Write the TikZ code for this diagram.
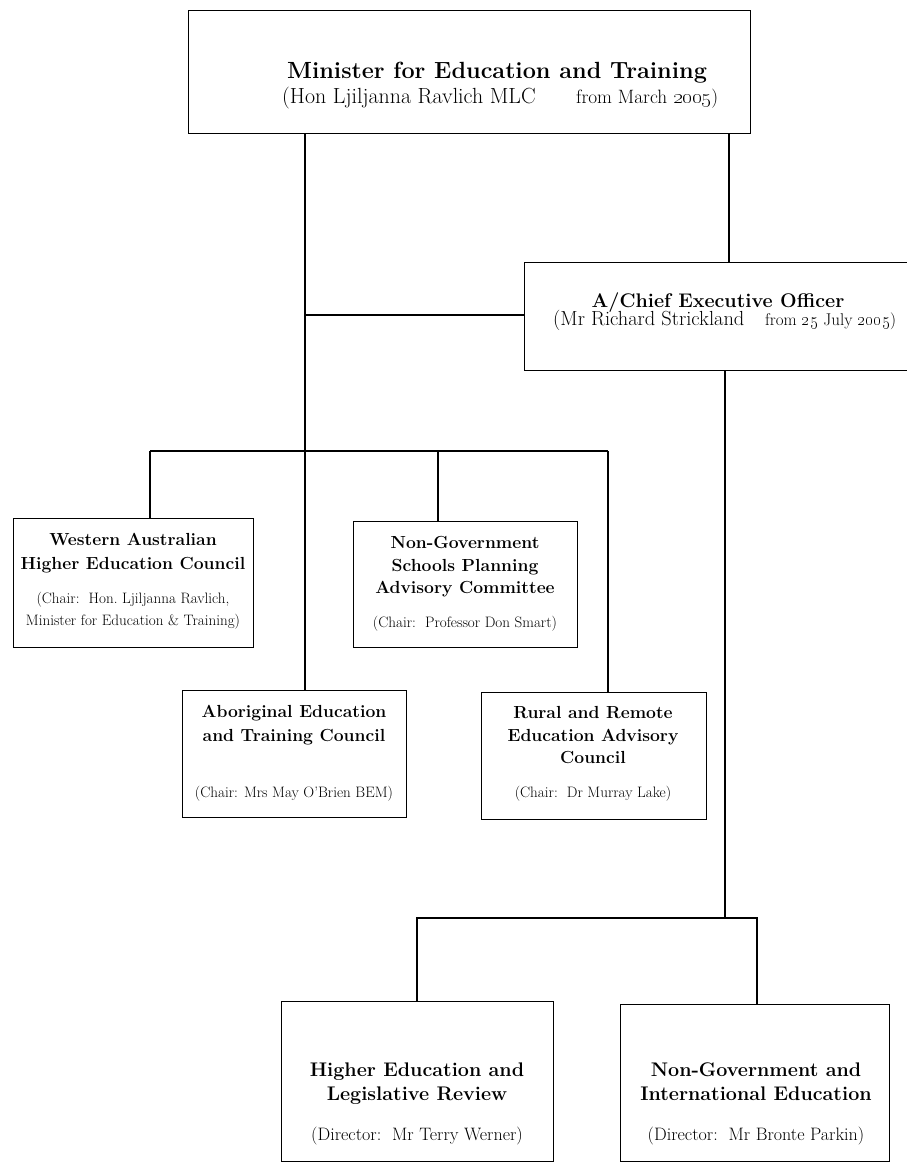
\documentclass[tikz,border=0pt]{standalone}
\begin{document}
\begin{tikzpicture}[x=1pt,y=-1pt,
  box/.style={draw, line width=1.3pt, inner sep=0pt, anchor=north west},
  conn/.style={line width=1.2pt},
  txt/.style={inner sep=0pt, anchor=base},
  tbig/.style={txt, font=\fontsize{23.4}{28}\selectfont\bfseries},
  tmed/.style={txt, font=\fontsize{19.7}{24}\selectfont\bfseries},
  tsmall/.style={txt, font=\fontsize{17.5}{21}\selectfont\bfseries},
  chair/.style={txt, font=\fontsize{15.1}{18}\selectfont},
  dir/.style={txt, font=\fontsize{18}{21}\selectfont},
]
\useasboundingbox (0,0) rectangle (906,1163);

% boxes
\node[box, minimum width=562pt, minimum height=123pt] (min) at (188,10) {};
\node[box, minimum width=392pt, minimum height=108pt] (ceo) at (524,262) {};
\node[box, minimum width=240pt, minimum height=129pt] (wa) at (13,518) {};
\node[box, minimum width=224pt, minimum height=126pt] (ng) at (353,521) {};
\node[box, minimum width=224pt, minimum height=127pt] (abo) at (182,690) {};
\node[box, minimum width=225pt, minimum height=127pt] (rr) at (481,692) {};
\node[box, minimum width=272pt, minimum height=160pt] (hel) at (281,1001) {};
\node[box, minimum width=269pt, minimum height=157pt] (nge) at (620,1004) {};

% texts: minister
\node[tbig] (t1) at (497,78) {Minister for Education and Training};
\node[txt, anchor=base west, font=\fontsize{21.9}{26}\selectfont] (t2) at (282,103) {(Hon Ljiljanna Ravlich MLC};
\node[txt, anchor=base west, font=\fontsize{19.3}{23}\selectfont] (t3) at (576,103) {from March \oldstylenums{2005})};

% CEO
\node[tmed] (t4) at (718,307) {A/Chief Executive Officer};
\node[txt, anchor=base west, font=\fontsize{20.4}{24}\selectfont] (t5) at (553,325) {(Mr Richard Strickland};
\node[txt, anchor=base west, font=\fontsize{17}{20}\selectfont] (t6) at (765,325) {from \oldstylenums{25} July \oldstylenums{2005})};

% Western Australian
\node[tsmall] (t7) at (133,545) {Western Australian};
\node[tsmall] (t8) at (133,569) {Higher Education Council};
\node[chair] (t9) at (133,603) {(Chair:\ \ Hon.\ Ljiljanna Ravlich,};
\node[chair] (t10) at (133,625) {Minister for Education \& Training)};

% Non-Government Schools
\node[tsmall] (t11) at (465,548) {Non-Government};
\node[tsmall] (t12) at (465,571) {Schools Planning};
\node[tsmall] (t13) at (465,593) {Advisory Committee};
\node[chair] (t14) at (465,627) {(Chair:\ \ Professor Don Smart)};

% Aboriginal
\node[tsmall] (t15) at (294,717) {Aboriginal Education};
\node[tsmall] (t16) at (294,741) {and Training Council};
\node[chair] (t17) at (294,797) {(Chair: Mrs May O’Brien BEM)};

% Rural
\node[tsmall] (t18) at (593,718) {Rural and Remote};
\node[tsmall] (t19) at (593,741) {Education Advisory};
\node[tsmall] (t20) at (593,763) {Council};
\node[chair] (t21) at (593,797) {(Chair:\ \ Dr Murray Lake)};

% bottom
\node[tmed] (t22) at (417,1076) {Higher Education and};
\node[tmed] (t23) at (417,1100) {Legislative Review};
\node[dir] (t24) at (417,1140) {(Director:\ \ Mr Terry Werner)};
\node[tmed] (t25) at (756,1076) {Non-Government and};
\node[tmed] (t26) at (756,1100) {International Education};
\node[dir] (t27) at (756,1140) {(Director:\ \ Mr Bronte Parkin)};

% connector coordinates
\coordinate (vL) at (305,315);
\coordinate (vR) at (729,200);
\coordinate (bL) at (150,451);
\coordinate (bM) at (438,451);
\coordinate (bR) at (608,451);
\coordinate (cD) at (725,918);
\coordinate (kL) at (417,918);
\coordinate (kR) at (757,918);

\draw[conn] (min.south -| vL) -- (abo.north -| vL);
\draw[conn] (vL) -- (ceo.west |- vL);
\draw[conn] (min.south -| vR) -- (ceo.north -| vR);
\draw[conn] (bL) -- (bR);
\draw[conn] (bL) -- (wa.north -| bL);
\draw[conn] (bM) -- (ng.north -| bM);
\draw[conn] (bR) -- (rr.north -| bR);
\draw[conn] (ceo.south -| cD) -- (cD);
\draw[conn] (hel.north -| kL) -- (kL) -- (kR) -- (nge.north -| kR);
\end{tikzpicture}
\end{document}
